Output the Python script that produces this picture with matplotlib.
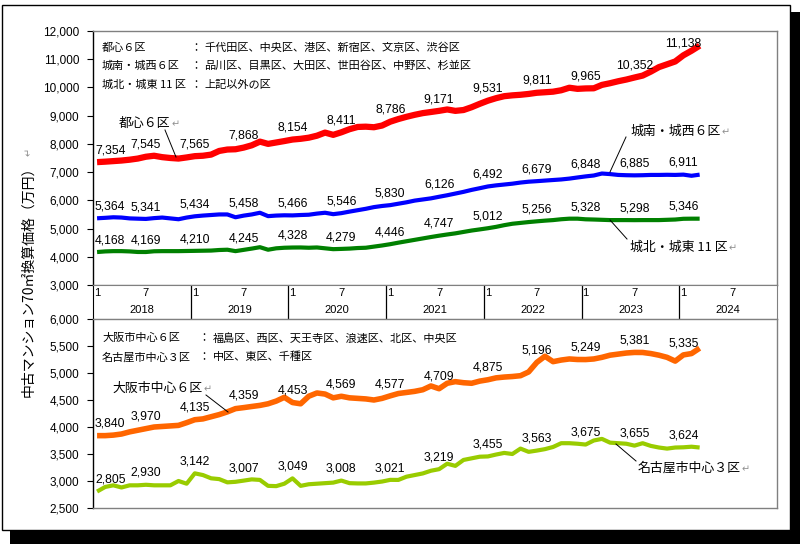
import matplotlib
matplotlib.use('Agg')
import matplotlib.pyplot as plt
from matplotlib.patches import Rectangle
from matplotlib.lines import Line2D
from matplotlib.ticker import FuncFormatter, MultipleLocator

# ---------------- data (monthly, Jan 2018 - Mar 2024) ----------------
years = [2018, 2019, 2020, 2021, 2022, 2023, 2024]
month_ticks = ["1", "7"]

toshin6 = [7354, 7370, 7390, 7410, 7440, 7480, 7545, 7580, 7530, 7500, 7480, 7520,
           7565, 7580, 7620, 7750, 7800, 7810, 7868, 7950, 8080, 8000, 8050, 8100,
           8154, 8180, 8220, 8290, 8400, 8320, 8411, 8520, 8600, 8610, 8590, 8650,
           8786, 8880, 8960, 9030, 9090, 9130, 9171, 9220, 9170, 9200, 9300, 9420,
           9531, 9620, 9690, 9720, 9740, 9770, 9811, 9830, 9850, 9900, 9990, 9950,
           9965, 9970, 10090, 10150, 10220, 10280, 10352, 10420, 10560, 10720, 10820, 10920,
           11138, 11300, 11480]

jonan6 = [5364, 5380, 5400, 5390, 5360, 5350, 5341, 5370, 5390, 5360, 5330, 5390,
          5434, 5460, 5480, 5500, 5500, 5400, 5458, 5500, 5560, 5440, 5460, 5470,
          5466, 5480, 5490, 5530, 5560, 5510, 5546, 5600, 5650, 5700, 5760, 5800,
          5830, 5880, 5930, 5990, 6030, 6070, 6126, 6180, 6240, 6300, 6370, 6430,
          6492, 6530, 6560, 6590, 6630, 6660, 6679, 6700, 6720, 6740, 6770, 6810,
          6848, 6880, 6950, 6930, 6900, 6890, 6885, 6890, 6900, 6900, 6905, 6900,
          6911, 6870, 6910]

johoku11 = [4168, 4190, 4200, 4200, 4190, 4170, 4169, 4195, 4200, 4200, 4200, 4205,
            4210, 4215, 4220, 4240, 4250, 4200, 4245, 4290, 4340, 4250, 4300, 4320,
            4328, 4330, 4320, 4330, 4300, 4270, 4279, 4290, 4310, 4320, 4360, 4400,
            4446, 4500, 4550, 4600, 4650, 4700, 4747, 4790, 4830, 4880, 4930, 4970,
            5012, 5060, 5120, 5170, 5200, 5230, 5256, 5280, 5300, 5330, 5350, 5350,
            5328, 5320, 5310, 5300, 5300, 5300, 5298, 5300, 5300, 5300, 5310, 5320,
            5346, 5350, 5350]

osaka6 = [3840, 3840, 3850, 3870, 3910, 3940, 3970, 4000, 4010, 4020, 4030, 4080,
          4135, 4150, 4190, 4230, 4280, 4340, 4359, 4380, 4400, 4430, 4480, 4550,
          4453, 4430, 4570, 4630, 4610, 4540, 4569, 4540, 4530, 4520, 4500, 4530,
          4577, 4620, 4640, 4660, 4690, 4760, 4709, 4810, 4840, 4820, 4810, 4850,
          4875, 4910, 4925, 4935, 4950, 5020, 5196, 5310, 5210, 5240, 5260, 5250,
          5249, 5260, 5290, 5330, 5350, 5370, 5381, 5380, 5360, 5330, 5290, 5220,
          5335, 5360, 5460]

nagoya3 = [2805, 2890, 2920, 2880, 2920, 2920, 2930, 2920, 2920, 2920, 3000, 2950,
           3142, 3110, 3050, 3035, 2975, 2985, 3007, 3030, 3020, 2910, 2905, 2950,
           3049, 2910, 2940, 2950, 2960, 2970, 3008, 2960, 2955, 2955, 2970, 2990,
           3021, 3020, 3080, 3110, 3140, 3190, 3219, 3320, 3280, 3390, 3420, 3450,
           3455, 3490, 3520, 3500, 3600, 3540, 3563, 3590, 3630, 3700, 3700, 3690,
           3675, 3750, 3780, 3710, 3700, 3690, 3655, 3700, 3650, 3620, 3600, 3620,
           3624, 3635, 3620]

label_every = 6

# ---------------- figure ----------------
W, H = 800, 544
fig = plt.figure(figsize=(8, 5.44), dpi=100)
JP = ['Noto Sans CJK JP', 'DejaVu Sans']
NUM = ['Liberation Sans', 'DejaVu Sans']
plt.rcParams['font.family'] = NUM


def fx(x):
    return x / W


def fy(y):
    return 1 - y / H


# outer frame with shadow
fig.add_artist(Rectangle((fx(10), 0), fx(790), 1 - 12 / H, transform=fig.transFigure,
                         facecolor='black', edgecolor='none', zorder=-20))
fig.add_artist(Rectangle((fx(2), fy(530)), fx(788), 525 / H, transform=fig.transFigure,
                         facecolor='white', edgecolor='black', lw=1.0, zorder=-19))

X0, X1 = 93, 777
ax_top = fig.add_axes([fx(X0), fy(285), fx(X1 - X0), 254 / H])
ax_band = fig.add_axes([fx(X0), fy(319), fx(X1 - X0), 34 / H])
ax_bot = fig.add_axes([fx(X0), fy(508), fx(X1 - X0), 189 / H])

nmonths = 12 * len(years)


def style(ax, lo, hi, step):
    ax.set_xlim(-0.5, nmonths - 0.5)
    ax.set_ylim(lo, hi)
    ax.yaxis.set_major_locator(MultipleLocator(step))
    ax.yaxis.set_major_formatter(FuncFormatter(lambda v, p: f"{int(round(v)):,}"))
    ax.set_xticks([])
    ax.tick_params(axis='y', direction='out', length=4, width=0.8,
                   labelsize=8.5, pad=6, color='black')
    for s in ['top', 'right', 'bottom']:
        ax.spines[s].set_color('#808080')
        ax.spines[s].set_linewidth(1.0)
    ax.spines['left'].set_color('black')
    ax.spines['left'].set_linewidth(1.0)
    ax.set_facecolor('white')


style(ax_top, 3000, 12000, 1000)
style(ax_bot, 2500, 6000, 500)


def draw(ax, vals, color, lw):
    xs = list(range(len(vals)))
    ax.plot(xs, vals, color=color, lw=lw, solid_capstyle='butt', solid_joinstyle='round', zorder=3)
    for k in range(0, len(vals), label_every):
        v = vals[k]
        if k == 0:
            ax.annotate(f"{v:,}", (k, v), xytext=(-1.5, 8.5), textcoords='offset points',
                        ha='left', va='center', fontsize=8.8, family=NUM, zorder=4)
        else:
            ax.annotate(f"{v:,}", (k, v), xytext=(0, 8.5), textcoords='offset points',
                        ha='center', va='center', fontsize=8.8, family=NUM, zorder=4)


draw(ax_top, toshin6, '#FF0000', 4.5)
draw(ax_top, jonan6, '#0000FF', 3.0)
draw(ax_top, johoku11, '#008000', 3.0)
draw(ax_bot, osaka6, '#FF6600', 4.0)
draw(ax_bot, nagoya3, '#99CC00', 3.0)

# category band (month / year)
ax_band.set_xlim(-0.5, nmonths - 0.5)
ax_band.set_ylim(0, 1)
ax_band.set_xticks([])
ax_band.set_yticks([])
for s in ['top', 'right', 'bottom']:
    ax_band.spines[s].set_color('#808080')
ax_band.spines['left'].set_color('black')
for j, yr in enumerate(years):
    base = 12 * j
    if j > 0:
        ax_band.axvline(base - 0.5, color='black', lw=0.9)
    ax_band.text(base, 0.76, month_ticks[0], ha='center', va='center', fontsize=8, family=NUM)
    ax_band.text(base + 6, 0.76, month_ticks[1], ha='center', va='center', fontsize=8, family=NUM)
    ax_band.text(base + 5.5, 0.27, str(yr), ha='center', va='center', fontsize=8, family=NUM)

# definitions text
defs_top = [("都心６区", "千代田区、中央区、港区、新宿区、文京区、渋谷区", 48),
            ("城南・城西６区", "品川区、目黒区、大田区、世田谷区、中野区、杉並区", 66),
            ("城北・城東 11 区", "上記以外の区", 85)]
for name, lst, y in defs_top:
    fig.text(fx(102), fy(y), name, ha='left', va='center', fontsize=8, family=JP)
    fig.text(fx(190), fy(y), "：", ha='left', va='center', fontsize=8, family=JP)
    fig.text(fx(204), fy(y), lst, ha='left', va='center', fontsize=8, family=JP)

defs_bot = [("大阪市中心６区", "福島区、西区、天王寺区、浪速区、北区、中央区", 338),
            ("名古屋市中心３区", "中区、東区、千種区", 357)]
for name, lst, y in defs_bot:
    fig.text(fx(102), fy(y), name, ha='left', va='center', fontsize=8, family=JP)
    fig.text(fx(198), fy(y), "：", ha='left', va='center', fontsize=8, family=JP)
    fig.text(fx(213), fy(y), lst, ha='left', va='center', fontsize=8, family=JP)

# series name annotations with leader lines
series_notes = [("都心６区", 119, 123, (165, 130), (176, 157)),
                ("城南・城西６区", 630, 131, (626, 137), (610, 172)),
                ("城北・城東 11 区", 630, 247, (627, 239), (610, 220)),
                ("大阪市中心６区", 112, 388, (206, 395), (228, 412)),
                ("名古屋市中心３区", 638, 468, (636, 461), (616, 444))]
renderer = fig.canvas.get_renderer()
for name, x, y, p0, p1 in series_notes:
    t = fig.text(fx(x), fy(y), name, ha='left', va='center', fontsize=9.3, family=JP)
    bb = t.get_window_extent(renderer=renderer)
    fig.text(bb.x1 / W + 1 / W, fy(y + 1), "↵", ha='left', va='center', fontsize=7,
             color='#909090', family=JP)
    fig.add_artist(Line2D([fx(p0[0]), fx(p1[0])], [fy(p0[1]), fy(p1[1])],
                          transform=fig.transFigure, color='black', lw=0.7))

# y axis title
yt = fig.text(fx(28), fy(278), "中古マンション70㎡換算価格（万円）", rotation=90, ha='center',
              va='center', fontsize=10, family=JP)
ybb = yt.get_window_extent(renderer=renderer)
fig.text(fx(29), (ybb.y1 + 3) / H, "↵", rotation=90, ha='center', va='bottom', fontsize=7,
         color='#909090', family=JP)

fig.savefig('out.png', dpi=100)
